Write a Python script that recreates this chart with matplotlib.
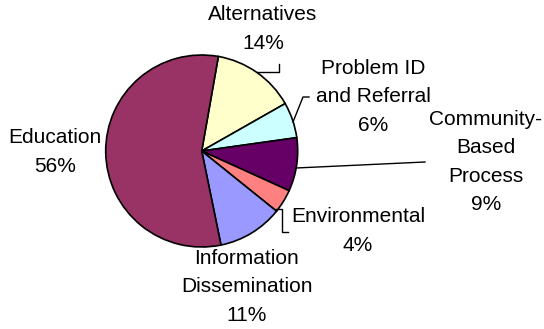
import matplotlib.pyplot as plt

# Share of activity by strategy (percent)
categories = ['Alternatives', 'Problem ID\nand Referral', 'Community-\nBased\nProcess',
              'Environmental', 'Information\nDissemination', 'Education']
shares = [14, 6, 9, 4, 11, 56]
colors = ['#FFFFCC', '#CCFFFF', '#660066', '#FF8080', '#9999FF', '#993366']

# label centres in pixels from the top-left corner
label_pos = [(263, 29), (373, 97), (486, 162), (358, 231), (247, 287), (55, 152)]
# leader lines (pixels, top-left origin); None where the label has no line
leaders = [
    [(257, 72), (279, 72), (279, 64)],
    [(293, 122), (303, 97), (309, 97)],
    [(296, 168), (425, 162)],
    [(276, 209), (282, 209), (282, 232), (288, 232)],
    None,
    None,
]

W, H = 544, 329
plt.rcParams['font.family'] = ['Liberation Sans', 'DejaVu Sans']

fig = plt.figure(figsize=(W / 100, H / 100), dpi=100)
ax = fig.add_axes([0, 0, 1, 1])

ax.pie(shares, colors=colors, startangle=80, counterclock=False,
       center=(201.7, H - 151), radius=96,
       wedgeprops=dict(edgecolor='black', linewidth=1.2))

for name, v, (x, y), line in zip(categories, shares, label_pos, leaders):
    ax.text(x, H - y, f'{name}\n{v}%', ha='center', va='center',
            fontsize=15, linespacing=1.62, color='black')
    if line:
        xs = [p[0] for p in line]
        ys = [H - p[1] for p in line]
        ax.plot(xs, ys, color='black', linewidth=1.0)

ax.set_xlim(0, W)
ax.set_ylim(0, H)
ax.set_aspect('equal')
ax.axis('off')

fig.savefig('out.png', dpi=100, facecolor='white')
